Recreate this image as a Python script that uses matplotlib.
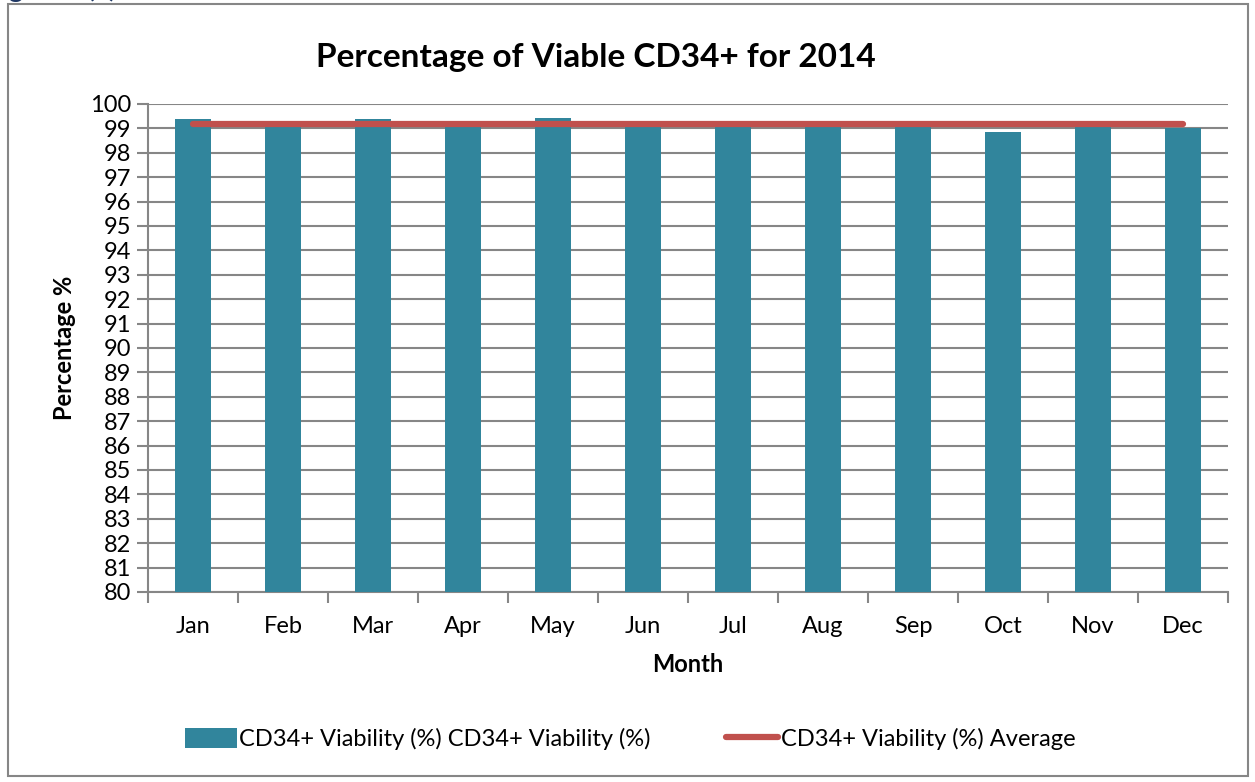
import matplotlib.pyplot as plt
import numpy as np
from matplotlib.patches import Rectangle

months = ['Jan', 'Feb', 'Mar', 'Apr', 'May', 'Jun', 'Jul', 'Aug', 'Sep', 'Oct', 'Nov', 'Dec']
viability = [99.38, 99.15, 99.37, 99.15, 99.42, 99.15, 99.30, 99.15, 99.10, 98.87, 99.20, 99.02]
average = [99.19] * 12
yticks = list(range(80, 101))

plt.rcParams['font.family'] = ['Lato', 'DejaVu Sans']

bar_col = '#31859C'
avg_col = '#C0504D'
grid_col = '#868686'
fs = 17

fig = plt.figure(figsize=(12.55, 7.82), dpi=100)
ax = fig.add_axes([148/1255, 1 - 592/782, (1228 - 148)/1255, (592 - 104)/782])

x = np.arange(len(months))
bars = ax.bar(x, viability, width=0.4, color=bar_col, zorder=3,
              label='CD34+ Viability (%) CD34+ Viability (%)')
line, = ax.plot(x, average, color=avg_col, linewidth=4.5, solid_capstyle='round', zorder=4,
                label='CD34+ Viability (%) Average')

ax.set_xlim(-0.5, len(months) - 0.5)
ax.set_ylim(80, 100)
ax.set_yticks(yticks)
ax.set_yticklabels([str(t) for t in yticks], fontsize=fs)
ax.set_xticks(x)
ax.set_xticklabels(months, fontsize=fs)
ax.set_xticks(np.arange(-0.5, len(months)), minor=True)
ax.tick_params(axis='x', which='major', length=0, pad=17)
ax.tick_params(axis='x', which='minor', length=8, width=1.5, color=grid_col, direction='out')
ax.tick_params(axis='y', length=8, width=1.5, color=grid_col, direction='out', pad=4)
ax.grid(axis='y', color=grid_col, linewidth=1.5, zorder=0)

for s in ['top', 'right']:
    ax.spines[s].set_visible(False)
for s in ['left', 'bottom']:
    ax.spines[s].set_color(grid_col)
    ax.spines[s].set_linewidth(1.5)

ax.set_xlabel('Month', fontsize=fs, fontweight='bold', labelpad=12)
ax.set_ylabel('Percentage %', fontsize=fs, fontweight='bold', labelpad=10)

fig.text(596/1255, 1 - 57/782, 'Percentage of Viable CD34+ for 2014', fontsize=24,
         fontweight='bold', ha='center', va='center')

fig.legend(handles=[bars, line], loc='center', bbox_to_anchor=(630/1255, 1 - 739/782),
           ncol=2, frameon=False, fontsize=fs, handlelength=2.2, handletextpad=0.1,
           columnspacing=3.2, handleheight=0.9)

# outer chart border
fig.patches.append(Rectangle((8/1255, 1 - 776/782), 1240/1255, 772/782, transform=fig.transFigure,
                             fill=False, edgecolor=grid_col, linewidth=1.5))
# clipped caption above the chart
fig.text(-14/1255, 1 + 3/782, 'Figure 1(a)', fontsize=20, fontweight='bold', color='#1F3864',
         ha='left', va='baseline')

fig.savefig('out.png', dpi=100)
